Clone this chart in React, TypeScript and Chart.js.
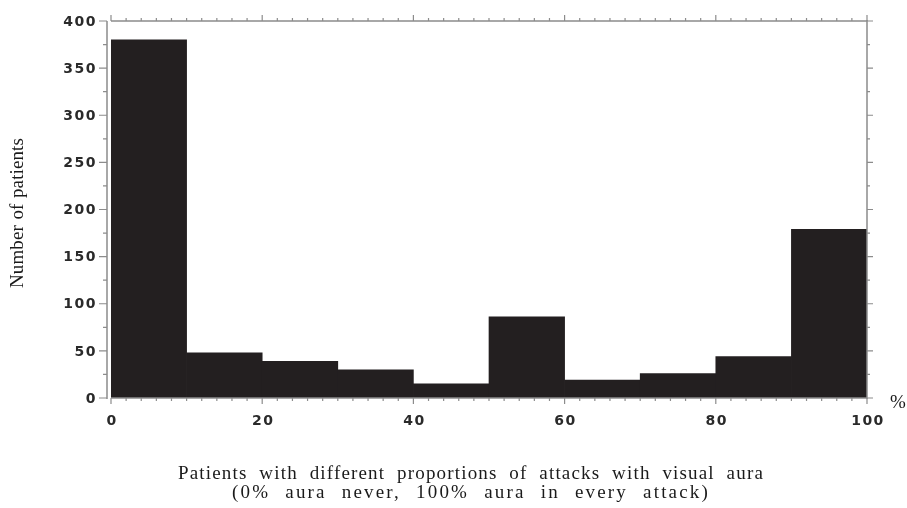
import React, { useEffect, useRef } from "react";
import { Chart, registerables } from "chart.js";

Chart.register(...registerables);

const binCenters = [5, 15, 25, 35, 45, 55, 65, 75, 85, 95];
const patientCounts = [380, 48, 39, 30, 15, 86, 19, 26, 44, 179];
const xTickLabels = [0, 20, 40, 60, 80, 100];
const yTickLabels = [0, 50, 100, 150, 200, 250, 300, 350, 400];
const xTitleLines = [
  "Patients with different proportions of attacks with visual aura",
  "(0% aura never, 100% aura in every attack)",
];
const yTitle = "Number of patients";
const unitLabel = "%";

const AXIS = "#8c8c8c";
const TEXT = "#2a2a2a";

function fitText(ctx: CanvasRenderingContext2D, text: string, width: number) {
  const c = ctx as any;
  c.letterSpacing = "0px";
  if ("wordSpacing" in c) c.wordSpacing = "0px";
  const w = ctx.measureText(text).width;
  const extra = Math.max(0, width - w);
  const spaces = (text.match(/ /g) || []).length;
  if ("wordSpacing" in c && spaces > 0) {
    const ls = (extra * 0.6) / Math.max(1, text.length - 1);
    c.letterSpacing = ls + "px";
    const w2 = ctx.measureText(text).width;
    c.wordSpacing = Math.max(0, (width - w2) / spaces) + "px";
  } else {
    c.letterSpacing = extra / Math.max(1, text.length - 1) + "px";
  }
}

function resetSpacing(ctx: CanvasRenderingContext2D) {
  const c = ctx as any;
  c.letterSpacing = "0px";
  if ("wordSpacing" in c) c.wordSpacing = "0px";
}

const framePlugin = {
  id: "frame",
  afterDatasetsDraw(chart: any) {
    const { ctx, chartArea: a, scales } = chart;
    const x = scales.x;
    const y = scales.y;
    ctx.save();
    ctx.strokeStyle = AXIS;
    ctx.lineWidth = 1.5;
    const leftX = a.left - 4;
    ctx.beginPath();
    ctx.moveTo(leftX, a.bottom + 1);
    ctx.lineTo(leftX, a.top);
    ctx.moveTo(a.left, a.top);
    ctx.lineTo(a.right, a.top);
    ctx.moveTo(a.right, a.top - 1);
    ctx.lineTo(a.right, a.bottom + 1);
    ctx.moveTo(a.left, a.bottom);
    ctx.lineTo(a.right, a.bottom);
    ctx.stroke();

    ctx.lineWidth = 1.2;
    ctx.beginPath();
    for (let v = 0; v <= 400; v += 25) {
      const py = y.getPixelForValue(v);
      const major = v % 50 === 0;
      ctx.moveTo(leftX, py);
      ctx.lineTo(leftX - (major ? 8 : 4), py);
      ctx.moveTo(a.right, py);
      ctx.lineTo(a.right + (major ? 6 : 3), py);
    }
    for (let v = 0; v <= 100; v += 2) {
      const px = x.getPixelForValue(v);
      const major = v % 20 === 0;
      ctx.moveTo(px, a.bottom);
      ctx.lineTo(px, a.bottom + (major ? 6 : 3));
      ctx.moveTo(px, a.top);
      ctx.lineTo(px, a.top - (major ? 6 : 3));
    }
    ctx.stroke();

    // tick labels
    ctx.fillStyle = TEXT;
    ctx.font = 'bold 14px "DejaVu Sans"';
    (ctx as any).letterSpacing = "1.5px";
    ctx.textBaseline = "middle";
    ctx.textAlign = "right";
    for (const v of yTickLabels) {
      ctx.fillText(String(v), leftX - 10, y.getPixelForValue(v) + 1);
    }
    ctx.textAlign = "center";
    for (const v of xTickLabels) {
      ctx.fillText(String(v), x.getPixelForValue(v) + 1, a.bottom + 23);
    }

    // titles
    ctx.fillStyle = "#1a1a1a";
    ctx.font = '19px "Liberation Serif"';
    ctx.textAlign = "left";
    ctx.textBaseline = "middle";
    fitText(ctx, xTitleLines[0], 586);
    ctx.fillText(xTitleLines[0], 178, 474);
    fitText(ctx, xTitleLines[1], 478);
    ctx.fillText(xTitleLines[1], 232, 493);

    ctx.save();
    ctx.translate(18, 213);
    ctx.rotate(-Math.PI / 2);
    ctx.textAlign = "left";
    fitText(ctx, yTitle, 150);
    ctx.fillText(yTitle, -75, 0);
    ctx.restore();

    resetSpacing(ctx);
    ctx.font = '19px "Liberation Serif"';
    ctx.textAlign = "center";
    ctx.fillText(unitLabel, 898, 403);
    ctx.restore();
  },
};

export default function App() {
  const ref = useRef<HTMLCanvasElement | null>(null);
  useEffect(() => {
    if (!ref.current) return;
    const chart = new Chart(ref.current, {
      type: "bar",
      data: {
        datasets: [
          {
            data: binCenters.map((c, i) => ({ x: c, y: patientCounts[i] })),
            backgroundColor: "#231f20",
            borderWidth: 0,
            barPercentage: 1,
            categoryPercentage: 1,
          },
        ],
      },
      options: {
        responsive: false,
        animation: false,
        layout: { padding: { left: 111, right: 40, top: 21, bottom: 110 } },
        plugins: { legend: { display: false }, tooltip: { enabled: false } },
        scales: {
          x: { type: "linear", offset: false, min: 0, max: 100, display: false, ticks: { stepSize: 20 } },
          y: { type: "linear", min: 0, max: 400, display: false, ticks: { stepSize: 50 } },
        },
      },
      plugins: [framePlugin],
    });
    return () => chart.destroy();
  }, []);
  return (
    <div style={{ position: "fixed", left: 0, top: 0, width: 907, height: 508, background: "#fff" }}>
      <canvas ref={ref} width={907} height={508} />
    </div>
  );
}
